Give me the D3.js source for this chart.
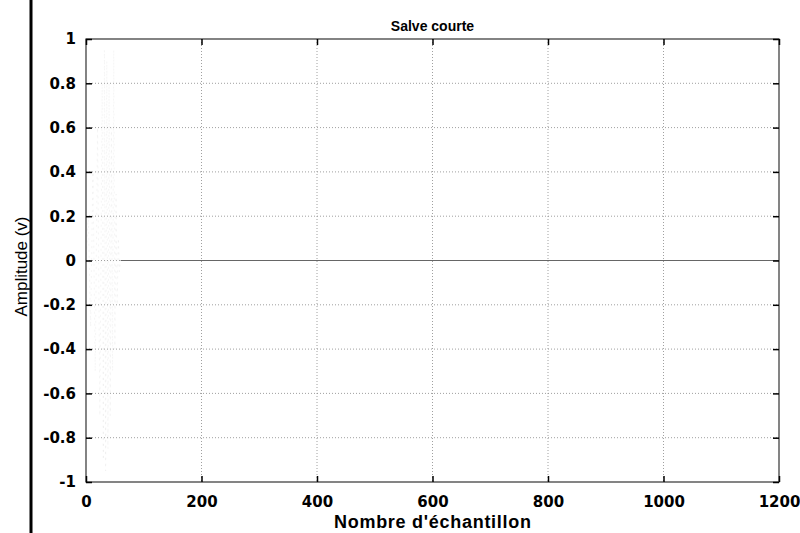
<!DOCTYPE html>
<html>
<head>
<meta charset="utf-8">
<script src="https://cdn.jsdelivr.net/npm/d3@7"></script>
<style>
  body { margin: 0; background: #fff; }
  svg { font-family: "Liberation Sans", Arial, sans-serif; }
</style>
</head>
<body>
<div id="chart"></div>
<script>
// tick values
var xTicks = [0, 200, 400, 600, 800, 1000, 1200];
var yTicks = [-1, -0.8, -0.6, -0.4, -0.2, 0, 0.2, 0.4, 0.6, 0.8, 1];

// short burst at the start of the record
var burstSamples = [0, 4, 8, 12, 16, 20, 24, 28, 30, 32, 34, 36, 38, 40, 42, 44, 46, 48, 50, 52, 54, 56, 58, 60];
var burstValues  = [0, 0.2, -0.3, 0.4, -0.5, 0.6, -0.7, 0.8, -0.9, 0.95, -0.95, 0.9, -0.85, 0.8, -0.7, 0.6, -0.5, 0.95, -0.4, 0.3, -0.2, 0.1, -0.05, 0];
// silence for the rest of the record
var restSamples = [60, 1200];
var restValues  = [0, 0];

var W = 800, H = 533;
var margin = {top: 39, right: 21, bottom: 51, left: 86},
    width = W - margin.left - margin.right,
    height = H - margin.top - margin.bottom;

var svg = d3.select("#chart")
  .append("svg")
    .attr("width", W)
    .attr("height", H);

// page border line from the scan
svg.append("line")
  .attr("x1", 31).attr("x2", 31)
  .attr("y1", 0).attr("y2", H)
  .attr("stroke", "#000")
  .attr("stroke-width", 3);

var g = svg.append("g")
  .attr("transform", "translate(" + margin.left + "," + margin.top + ")");

var x = d3.scaleLinear().domain([0, 1200]).range([0, width]);
var y = d3.scaleLinear().domain([-1, 1]).range([height, 0]);

// grid
g.append("g")
  .selectAll("line")
  .data(xTicks.slice(1, -1))
  .enter().append("line")
    .attr("x1", function(d) { return x(d) })
    .attr("x2", function(d) { return x(d) })
    .attr("y1", 0).attr("y2", height)
    .attr("stroke", "#888")
    .attr("stroke-width", 0.8)
    .attr("stroke-dasharray", "1,2");
g.append("g")
  .selectAll("line")
  .data(yTicks.slice(1, -1))
  .enter().append("line")
    .attr("y1", function(d) { return y(d) })
    .attr("y2", function(d) { return y(d) })
    .attr("x1", 0).attr("x2", width)
    .attr("stroke", "#888")
    .attr("stroke-width", 0.8)
    .attr("stroke-dasharray", "1,2");

// signal
var line = d3.line()
  .x(function(d) { return x(d[0]) })
  .y(function(d) { return y(d[1]) });

g.append("path")
  .datum(d3.zip(burstSamples, burstValues))
  .attr("fill", "none")
  .attr("stroke", "#ccc")
  .attr("stroke-width", 0.4)
  .attr("stroke-opacity", 0.5)
  .attr("stroke-dasharray", "2,4")
  .attr("d", line);

g.append("path")
  .datum(d3.zip(restSamples, restValues))
  .attr("fill", "none")
  .attr("stroke", "#666")
  .attr("stroke-width", 1)
  .attr("d", line);

// box
g.append("rect")
  .attr("width", width).attr("height", height)
  .attr("fill", "none")
  .attr("stroke", "#333")
  .attr("stroke-width", 1.2);

// axes with inward ticks on all sides
var tk = 6;
g.append("g")
  .attr("transform", "translate(0," + height + ")")
  .call(d3.axisBottom(x).tickValues(xTicks).tickSize(-tk).tickPadding(tk + 8).tickFormat(d3.format("d")))
  .call(function(a) { a.select(".domain").remove(); });
g.append("g")
  .call(d3.axisTop(x).tickValues(xTicks).tickSize(-tk).tickFormat(""))
  .call(function(a) { a.select(".domain").remove(); });
g.append("g")
  .call(d3.axisLeft(y).tickValues(yTicks).tickSize(-tk).tickPadding(tk + 4).tickFormat(function(d) { return String(+d.toFixed(1)) }))
  .call(function(a) { a.select(".domain").remove(); });
g.append("g")
  .attr("transform", "translate(" + width + ",0)")
  .call(d3.axisRight(y).tickValues(yTicks).tickSize(-tk).tickFormat(""))
  .call(function(a) { a.select(".domain").remove(); });

g.selectAll(".tick line").attr("stroke", "#000").attr("stroke-width", 1.5);
g.selectAll(".tick text")
  .attr("fill", "#000")
  .style("font-family", "'DejaVu Sans', sans-serif")
  .style("font-size", "15px")
  .style("font-weight", "bold");

// titles
svg.append("text")
  .attr("x", margin.left + width / 2)
  .attr("y", 31)
  .attr("text-anchor", "middle")
  .style("font-size", "14px")
  .style("font-weight", "bold")
  .text("Salve courte");

svg.append("text")
  .attr("x", margin.left + width / 2)
  .attr("y", 528)
  .attr("text-anchor", "middle")
  .style("font-size", "18px")
  .style("font-weight", "bold")
  .attr("textLength", 197)
  .text("Nombre d'échantillon");

svg.append("text")
  .attr("transform", "translate(27," + (margin.top + height / 2 + 6) + ") rotate(-90)")
  .attr("text-anchor", "middle")
  .style("font-size", "17px")
  .attr("textLength", 100)
  .attr("lengthAdjust", "spacingAndGlyphs")
  .text("Amplitude (v)");
</script>
</body>
</html>
